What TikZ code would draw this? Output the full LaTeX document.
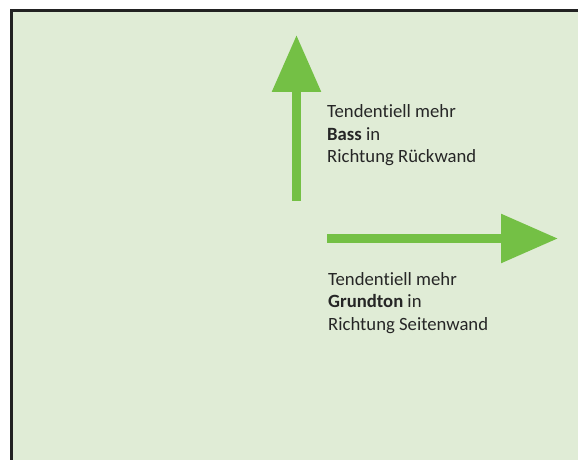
\documentclass[tikz,border=0pt]{standalone}
\usepackage{fontspec}
\setmainfont[Ligatures={NoCommon}]{Carlito}
\usetikzlibrary{arrows.meta}
\definecolor{roomGreen}{HTML}{E0ECD6}
\definecolor{arrowGreen}{HTML}{74C045}
\definecolor{wallGray}{HTML}{222222}
\begin{document}
\begin{tikzpicture}[x=1pt, y=1pt,
    arrowStyle/.style={draw=arrowGreen, line width=9pt, -{Triangle[width=47pt, length=57pt]}},
    labelStyle/.style={anchor=north west, inner sep=0pt, align=left, text=black!85, font=\fontsize{18.7}{22.5}\selectfont}]
    \useasboundingbox (0,0) rectangle (578,460);
    \fill[roomGreen] (11,0) rectangle (578,449);
    \draw[wallGray, line width=3pt] (11,0) -- (11,449) -- (578,449);

    \coordinate (bassStart) at (296.5,259);
    \coordinate (bassEnd) at (296.5,425);
    \coordinate (grundStart) at (327,221.5);
    \coordinate (grundEnd) at (558,221.5);

    \draw[arrowStyle] (bassStart) -- (bassEnd);
    \draw[arrowStyle] (grundStart) -- (grundEnd);

    \node[labelStyle] (bassLabel) at (327,355.5) {Tendentiell mehr\\\textbf{Bass} in\\Richtung Rückwand};
    \node[labelStyle] (grundLabel) at (328,188) {Tendentiell mehr\\\textbf{Grundton} in\\Richtung Seitenwand};
\end{tikzpicture}
\end{document}
